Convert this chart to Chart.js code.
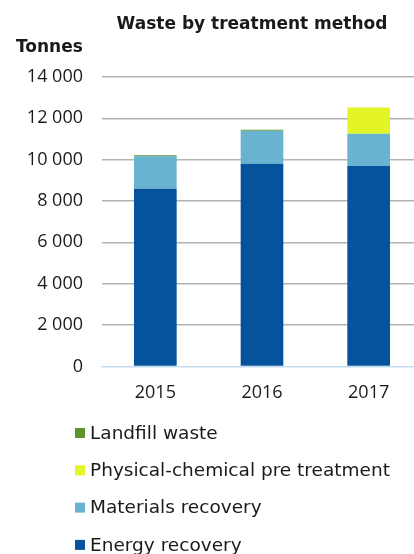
<!DOCTYPE html>
<html lang="en">

<head>
    <meta charset="UTF-8">
    <title>Waste by treatment method</title>
    <style>
        html, body { margin: 0; padding: 0; background: #fff; overflow: hidden; }
        .wrap { width: 422px; height: 554px; }
    </style>
</head>

<body>
    <div class="wrap">
        <canvas id="grafico"></canvas>
    </div>

    <script src="https://cdn.jsdelivr.net/npm/chart.js"></script>

    <script>
        const anos = ['2015', '2016', '2017']
        const energyRecovery = [8600, 9800, 9700]
        const materialsRecovery = [1570, 1600, 1550]
        const physChemTreatment = [0, 0, 1280]
        const landfillWaste = [50, 50, 0]
        const yTicks = [0, 2000, 4000, 6000, 8000, 10000, 12000, 14000]

        const fonte = '"DejaVu Sans", sans-serif'
        const fonteEixo = '"Open Sans", sans-serif'

        const formata = (v) => String(v).replace(/\B(?=(\d{3})+(?!\d))/g, ' ')

        // titulo, "Tonnes" e legenda vertical desenhados no canvas
        const extras = {
            id: 'extras',
            afterDraw(chart) {
                const c = chart.ctx
                c.save()
                c.fillStyle = '#1a1a1a'
                c.textBaseline = 'middle'

                c.font = 'bold 17px ' + fonte
                c.textAlign = 'center'
                c.fillText('Waste by treatment method', 252, 25)

                c.textAlign = 'left'
                c.fillText('Tonnes', 16, 48)

                const itens = chart.data.datasets.slice().reverse()
                c.font = '18.5px ' + fonte
                itens.forEach((ds, i) => {
                    const y = 433 + i * 37.3
                    c.fillStyle = ds.backgroundColor
                    c.fillRect(75, y - 5, 10, 10)
                    c.fillStyle = '#1a1a1a'
                    c.fillText(ds.label, 90, y + 1)
                })
                c.restore()
            }
        }

        new Chart(document.getElementById('grafico'), {
            type: 'bar',
            data: {
                labels: anos,
                datasets: [
                    { label: 'Energy recovery', data: energyRecovery, backgroundColor: '#04539c' },
                    { label: 'Materials recovery', data: materialsRecovery, backgroundColor: '#68b3d0' },
                    { label: 'Physical-chemical pre treatment', data: physChemTreatment, backgroundColor: '#e3f527' },
                    { label: 'Landfill waste', data: landfillWaste, backgroundColor: '#5e922c' }
                ]
            },
            options: {
                responsive: true,
                maintainAspectRatio: false,
                animation: false,
                layout: { padding: { top: 77, bottom: 142, left: 0, right: 0 } },
                datasets: { bar: { categoryPercentage: 1, barPercentage: 0.4 } },
                plugins: {
                    legend: { display: false },
                    tooltip: { enabled: false }
                },
                scales: {
                    x: {
                        stacked: true,
                        grid: { display: false },
                        border: { display: true, color: '#c4dcf0', width: 1.5 },
                        ticks: { color: '#1a1a1a', font: { family: fonteEixo, size: 18 }, padding: 8 }
                    },
                    y: {
                        stacked: true,
                        min: 0,
                        max: 14000,
                        afterFit(scale) { scale.width = 102 },
                        afterBuildTicks(scale) { scale.ticks = yTicks.map((v) => ({ value: v })) },
                        border: { display: false },
                        grid: {
                            drawTicks: false,
                            color: (ctx) => ctx.index === 0 ? 'rgba(0,0,0,0)' : '#b3b3b3',
                            lineWidth: 1.5
                        },
                        ticks: {
                            color: '#1a1a1a',
                            padding: 19,
                            font: { family: fonteEixo, size: 18 },
                            callback: (v) => formata(v)
                        }
                    }
                }
            },
            plugins: [extras]
        });
    </script>
</body>

</html>
